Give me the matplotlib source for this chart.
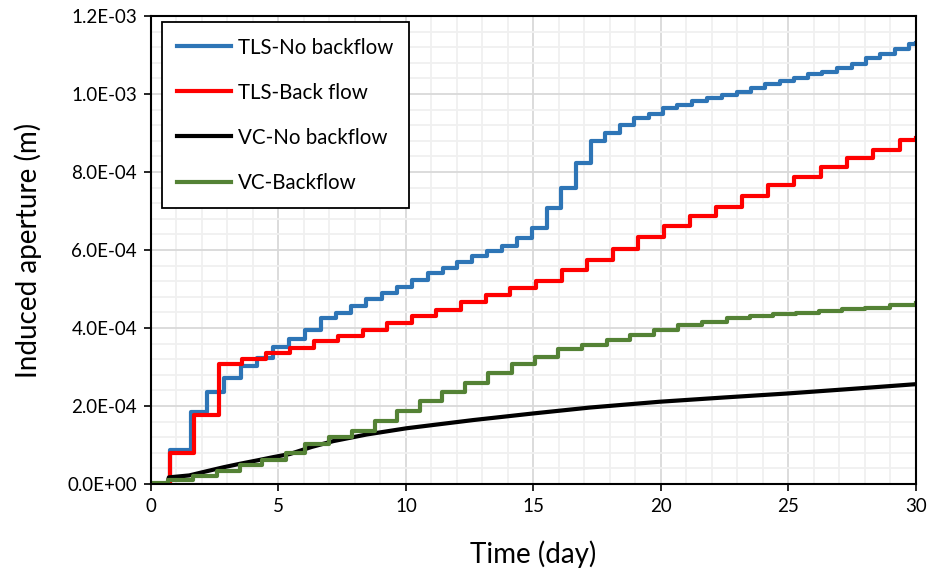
import matplotlib
matplotlib.use("Agg")
import matplotlib.pyplot as plt
from matplotlib.ticker import MultipleLocator, FuncFormatter

plt.rcParams["font.family"] = ["Lato", "DejaVu Sans"]

# TLS - no backflow: jump times (day) and level after each jump (1e-4 m)
blue_t = [0, 0.75, 1.56, 2.21, 2.86, 3.52, 4.17, 4.80, 5.42, 6.04, 6.65, 7.24,
          7.84, 8.43, 9.05, 9.66, 10.22, 10.85, 11.46, 11.99, 12.6, 13.19,
          13.78, 14.36, 14.93, 15.52, 16.08, 16.65, 17.24, 17.8, 18.39, 18.94,
          19.53, 20.09, 20.64, 21.23, 21.79, 22.38, 22.97, 23.52, 24.08, 24.67,
          25.22, 25.78, 26.3, 26.89, 27.48, 28.03, 28.59, 29.18, 29.74, 30]
blue_y = [0, 0.88, 1.85, 2.37, 2.71, 3.03, 3.22, 3.52, 3.73, 3.96, 4.25, 4.38,
          4.56, 4.74, 4.91, 5.06, 5.23, 5.42, 5.53, 5.70, 5.85, 5.97,
          6.10, 6.30, 6.56, 7.07, 7.60, 8.22, 8.80, 9.01, 9.21, 9.38,
          9.50, 9.63, 9.73, 9.82, 9.89, 9.97, 10.05, 10.15, 10.25, 10.34,
          10.40, 10.51, 10.57, 10.66, 10.76, 10.92, 11.02, 11.15, 11.27, 11.30]

# TLS - back flow
red_t = [0, 0.75, 1.70, 2.67, 3.56, 4.50, 5.45, 6.39, 7.35, 8.30, 9.24, 10.22,
         11.16, 12.14, 13.14, 14.08, 15.1, 16.1, 17.1, 18.1, 19.09, 20.12,
         21.14, 22.16, 23.16, 24.21, 25.23, 26.27, 27.31, 28.33, 29.37, 30]
red_y = [0, 0.80, 1.77, 3.09, 3.20, 3.37, 3.50, 3.67, 3.79, 3.96, 4.12, 4.32,
         4.45, 4.67, 4.85, 5.02, 5.21, 5.48, 5.74, 6.02, 6.33, 6.62,
         6.87, 7.11, 7.38, 7.67, 7.86, 8.14, 8.35, 8.56, 8.82, 8.86]

# VC - no backflow (smooth curve)
black_t = [0, 0.65, 0.7, 1.5, 2.2, 2.85, 3.5, 4.2, 4.8, 5.45, 6.3, 7.15, 8.46,
           10.03, 12.64, 15.0, 17.2, 19.96, 22.5, 24.93, 27.5, 30]
black_y = [0, 0.02, 0.17, 0.22, 0.33, 0.43, 0.52, 0.61, 0.69, 0.77, 0.95, 1.10,
           1.27, 1.43, 1.64, 1.81, 1.96, 2.11, 2.22, 2.32, 2.44, 2.56]

# VC - backflow
green_t = [0, 0.67, 1.65, 2.58, 3.49, 4.34, 5.29, 6.04, 6.99, 7.87, 8.78, 9.63,
           10.55, 11.42, 12.31, 13.23, 14.14, 15.06, 15.97, 16.89, 17.87, 18.78,
           19.72, 20.68, 21.6, 22.58, 23.49, 24.4, 25.3, 26.2, 27.1, 28.0, 29.0, 30]
green_y = [0.02, 0.10, 0.21, 0.34, 0.49, 0.62, 0.80, 1.03, 1.21, 1.37, 1.62, 1.88,
           2.14, 2.37, 2.58, 2.85, 3.07, 3.26, 3.45, 3.56, 3.69, 3.82,
           3.95, 4.08, 4.16, 4.25, 4.31, 4.35, 4.39, 4.43, 4.48, 4.52, 4.58, 4.65]

scale = 1e-4

fig = plt.figure(figsize=(9.28, 5.76), dpi=100)
ax = fig.add_axes([0.1627, 0.1597, 0.8243, 0.8125])

lw = 3.0
ax.step(blue_t, [v * scale for v in blue_y], where="post", color="#2E75B6",
        lw=lw, label="TLS-No backflow")
ax.step(red_t, [v * scale for v in red_y], where="post", color="#FF0000",
        lw=lw, label="TLS-Back flow")
ax.plot(black_t, [v * scale for v in black_y], color="#000000",
        lw=lw, label="VC-No backflow")
ax.step(green_t, [v * scale for v in green_y], where="post", color="#548235",
        lw=lw, label="VC-Backflow")

ax.set_xlim(0, 30)
ax.set_ylim(0, 1.2e-3)
ax.xaxis.set_major_locator(MultipleLocator(5))
ax.xaxis.set_minor_locator(MultipleLocator(1))
ax.yaxis.set_major_locator(MultipleLocator(2e-4))
ax.yaxis.set_minor_locator(MultipleLocator(4e-5))
ax.yaxis.set_major_formatter(FuncFormatter(lambda v, p: f"{v:.1E}"))

ax.grid(True, which="major", color="#d9d9d9", lw=1.3, zorder=0)
ax.grid(True, which="minor", color="#f0f0f0", lw=1.3, zorder=0)
ax.set_axisbelow(True)

for s in ax.spines.values():
    s.set_color("black")
    s.set_linewidth(1.5)

ax.tick_params(which="major", direction="out", length=5, width=1.2,
               labelsize=13.5, colors="black", pad=5)
ax.tick_params(which="minor", length=0)

ax.set_xlabel("Time (day)", fontsize=20, labelpad=18)
ax.set_ylabel("Induced aperture (m)", fontsize=20, labelpad=18)

leg = ax.legend(loc="upper left", bbox_to_anchor=(0.0144, 0.987),
                borderaxespad=0, fontsize=14.8, frameon=True, fancybox=False,
                edgecolor="black", framealpha=1, handlelength=2.6,
                handletextpad=0.35, labelspacing=1.22, borderpad=0.75)
leg.get_frame().set_linewidth(1.3)

fig.savefig("out.png", dpi=100)
